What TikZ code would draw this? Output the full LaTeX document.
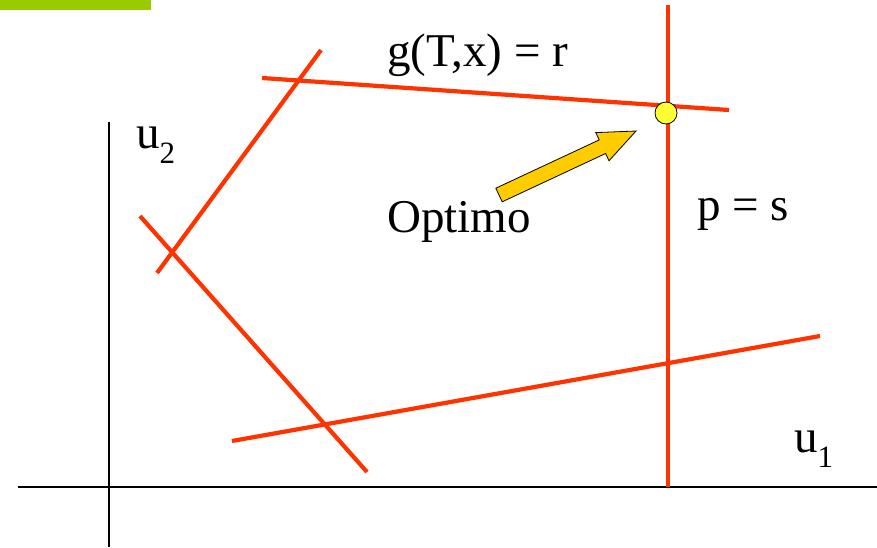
\documentclass[tikz,border=0pt]{standalone}
\usepackage{fontspec}
\setmainfont{Liberation Serif}
\usepackage{tikz}
\usetikzlibrary{calc}
\usepackage{xcolor}
\definecolor{cutred}{HTML}{FF3300}
\definecolor{tabgreen}{HTML}{99CC00}
\definecolor{pointyellow}{HTML}{FFFF33}
\definecolor{arrowgold}{HTML}{FFCC00}
\newcommand{\lowidx}[1]{\raisebox{-15pt}{\fontsize{31}{31}\selectfont #1}}
\tikzset{
  cut/.style={cutred, line width=4.2pt},
  axisline/.style={black, line width=2pt},
  lbl/.style={font=\fontsize{47}{50}\selectfont, anchor=base west, inner sep=0pt}
}

\begin{document}
\begin{tikzpicture}[x=1pt,y=-1pt]
                    \useasboundingbox (0,0) rectangle (877,547);
                    \fill[tabgreen] (0,0) rectangle (151,10);

                    % axes
                    \draw[axisline] (18,487) -- (877,487);
                    \draw[axisline] (109,122) -- (109,547);

                    % constraint lines
                    \draw[cut] (262,78) -- (729,110);
                    \draw[cut] (668,5) -- (668,487);
                    \draw[cut] (232,441) -- (820,336);
                    \draw[cut] (157,273) -- (321,50);
                    \draw[cut] (140,216) -- (367,472);

                    % optimum point and pointer
                    \node[circle, draw=black, thick, fill=pointyellow, minimum size=22pt, inner sep=0pt] (opt) at (666,113) {};
                    \draw[thick, fill=arrowgold, line join=miter]
                        (502.2,201.8) -- (605.6,153.5) -- (609.0,160.8) -- (636,131)
                        -- (595.8,132.6) -- (599.2,139.9) -- (495.8,188.2) -- cycle;

                    \node[lbl] (gtx) at (387,66) {g(T,x) = r};
                    \node[lbl] (optlbl) at (387,232) {Optimo};
                    \node[lbl] (ps) at (697,220) {p = s};
                    \node[lbl] (ux) at (136,148) {u\lowidx{2}};
                    \node[lbl] (uy) at (794,452) {u\lowidx{1}};
                \end{tikzpicture}
\end{document}
